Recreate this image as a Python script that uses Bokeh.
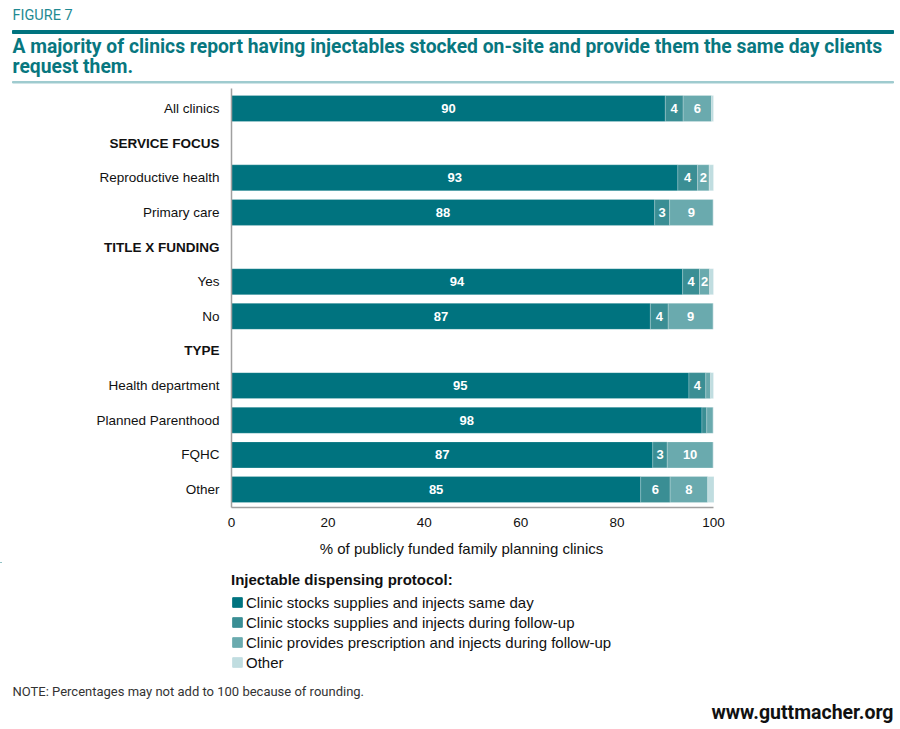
from bokeh.plotting import figure
from bokeh.layouts import column
from bokeh.models import Range1d, FixedTicker, Legend, LegendItem, Plot
from bokeh.core.properties import value
from bokeh.embed import file_html
from bokeh.resources import INLINE

# ---------------- data ----------------
rows = ["All clinics", "SERVICE FOCUS", "Reproductive health", "Primary care",
        "TITLE X FUNDING", "Yes", "No", "TYPE", "Health department",
        "Planned Parenthood", "FQHC", "Other"]
is_header = [False, True, False, False, True, False, False, True, False, False, False, False]

groups = ["All clinics", "Reproductive health", "Primary care", "Yes", "No",
          "Health department", "Planned Parenthood", "FQHC", "Other"]
same_day = [90.0, 92.6, 87.8, 93.6, 86.9, 94.9, 97.6, 87.4, 84.9]
stock_followup = [3.7, 4.1, 3.1, 3.5, 3.7, 3.5, 1.0, 3.0, 6.1]
rx_followup = [5.9, 2.4, 9.0, 2.1, 9.3, 1.0, 1.3, 9.5, 7.8]
other = [0.4, 0.9, 0.1, 0.8, 0.1, 0.6, 0.1, 0.1, 1.3]

series_names = ["Clinic stocks supplies and injects same day",
                "Clinic stocks supplies and injects during follow-up",
                "Clinic provides prescription and injects during follow-up",
                "Other"]
x_ticks = [0, 20, 40, 60, 80, 100]

fig_label = "FIGURE 7"
title_lines = ["A majority of clinics report having injectables stocked on-site and provide them the same day clients",
               "request them."]
x_title = "% of publicly funded family planning clinics"
legend_title = "Injectable dispensing protocol:"
note = "NOTE: Percentages may not add to 100 because of rounding."
source_url = "www.guttmacher.org"

# ---------------- style ----------------
colors = ["#00737f", "#3a8e94", "#6aaaae", "#c0dde0"]
TEAL = "#00737f"
W = 896
FONT = "Liberation Sans"
HAS_FA = "frame_align" in Plot.properties()
LB = 26 if HAS_FA else 0        # left border of the chart frame


def blank(fig):
    fig.outline_line_color = None
    fig.xgrid.visible = False
    fig.ygrid.visible = False
    fig.xaxis.visible = False
    fig.yaxis.visible = False
    fig.background_fill_color = "white"
    fig.border_fill_color = "white"
    if HAS_FA:
        fig.frame_align = False


def panel(h):
    f = figure(frame_width=W, frame_height=h, min_border=0,
               x_range=Range1d(0, W), y_range=Range1d(h, 0),
               output_backend="svg", toolbar_location=None, tools="")
    blank(f)
    return f


# ---------------- header figure ----------------
HA = 84
pa = panel(HA)
pa.text(x=[12], y=[15], text=[fig_label], text_baseline="middle", text_font=value("Roboto"),
        text_font_size="14.5px", text_color="#1f8a93")
pa.quad(left=[12], right=[893], top=[30], bottom=[33], color=TEAL)
pa.text(x=[12, 12], y=[46, 66], text=title_lines, text_baseline="middle",
        text_font=value("Roboto"), text_font_size="19.3px", text_font_style="bold",
        text_color="#08777f")
pa.quad(left=[12], right=[893], top=[81], bottom=[82.5], color="#9fcbcf")

# ---------------- chart figure ----------------
TOP_B = HA                      # page y of chart frame top
X0, XS = 231.0, 4.82            # page x of value 0, px per unit
Y0, YS = 108.0, 34.64           # page y of first row, px per row


def px(x):
    return (x - X0) / XS


def py(y):
    return (y - Y0) / YS


FH = 426
pb = figure(frame_width=W - LB, frame_height=FH, min_border_left=LB, min_border_right=0,
            min_border_top=0, min_border_bottom=52,
            x_range=Range1d(px(LB), px(W)), y_range=Range1d(py(TOP_B + FH), py(TOP_B)),
            output_backend="svg", toolbar_location=None, tools="")
pb.outline_line_color = None
pb.xgrid.visible = False
pb.ygrid.visible = False
pb.yaxis.visible = False
pb.background_fill_color = "white"
pb.border_fill_color = "white"
if HAS_FA:
    pb.frame_align = False

row_y = [float(rows.index(g)) for g in groups]
rends = pb.hbar_stack(["s0", "s1", "s2", "s3"], y="y", height=0.75, color=colors,
                      line_color="white", line_alpha=0.35, line_width=0.6,
                      source=dict(y=row_y, s0=same_day, s1=stock_followup, s2=rx_followup, s3=other))

# value labels inside the segments
vx, vy, vt = [], [], []
for i in range(len(groups)):
    left = 0.0
    for arr in (same_day, stock_followup, rx_followup, other):
        v = arr[i]
        lab = int(v + 0.5)
        if lab >= 2:
            vx.append(left + v / 2)
            vy.append(row_y[i])
            vt.append(str(lab))
        left += v
pb.text(x=vx, y=vy, text=vt, text_align="center", text_baseline="middle",
        text_color="white", text_font=value(FONT), text_font_style="bold",
        text_font_size="13px")

# row labels
lab_x = px(219)
n_rows = len(rows)
pb.text(x=[lab_x] * n_rows, y=[float(i) for i in range(n_rows)],
        text=[r if not h else "" for r, h in zip(rows, is_header)],
        text_align="right", text_baseline="middle", text_font=value(FONT),
        text_font_size="13.5px", text_color="#111111")
pb.text(x=[lab_x] * n_rows, y=[float(i) for i in range(n_rows)],
        text=[r if h else "" for r, h in zip(rows, is_header)],
        text_align="right", text_baseline="middle", text_font=value(FONT),
        text_font_size="13.5px", text_font_style="bold", text_color="#111111")

# axis lines
AX_Y = py(507)
pb.segment(x0=[x_ticks[0]], y0=[AX_Y], x1=[x_ticks[-1]], y1=[AX_Y], line_color="#a0a0a0", line_width=1.5)
pb.segment(x0=[x_ticks[0]], y0=[py(88)], x1=[x_ticks[0]], y1=[AX_Y], line_color="#a0a0a0", line_width=1.5)

pb.xaxis.ticker = FixedTicker(ticks=x_ticks)
pb.xaxis.axis_line_color = None
pb.xaxis.major_tick_line_color = None
pb.xaxis.minor_tick_line_color = None
pb.xaxis.major_label_text_font = FONT
pb.xaxis.major_label_text_font_size = "13.5px"
pb.xaxis.major_label_text_color = "#111111"
pb.xaxis.major_label_standoff = 1
pb.xaxis.axis_label = x_title
pb.xaxis.axis_label_text_font = FONT
pb.xaxis.axis_label_text_font_size = "15px"
pb.xaxis.axis_label_text_font_style = "normal"
pb.xaxis.axis_label_text_color = "#111111"
pb.xaxis.axis_label_standoff = 10

# ---------------- legend / footer figure ----------------
HC = 163
pc = panel(HC)
# legend swatches (kept outside the visible range; only the legend shows them)
leg_r = [pc.hbar(y=[-1000], left=[0], right=[1], height=1, color=c) for c in colors]
legend = Legend(items=[LegendItem(label=n, renderers=[r]) for n, r in zip(series_names, leg_r)],
                title=legend_title, location=(231, HC - 110),
                orientation="vertical", padding=0, margin=0, spacing=0,
                glyph_width=12, glyph_height=12, label_standoff=3, label_height=20,
                border_line_color=None, background_fill_alpha=0,
                label_text_font=FONT, label_text_font_size="15px",
                label_text_color="#111111",
                title_text_font=FONT, title_text_font_size="15px",
                title_text_font_style="bold", title_text_color="#111111", title_standoff=4)
pc.add_layout(legend, "center")
pc.text(x=[12], y=[129], text=[note], text_baseline="middle", text_font=value("Roboto"),
        text_font_size="13px", text_color="#333333")
pc.text(x=[893], y=[150], text=[source_url], text_align="right", text_baseline="middle",
        text_font=value("Roboto"), text_font_size="19.5px", text_font_style="bold",
        text_color="#111111")

layout = column(pa, pb, pc, spacing=0)
open("out.html", "w").write(file_html(layout, INLINE))
